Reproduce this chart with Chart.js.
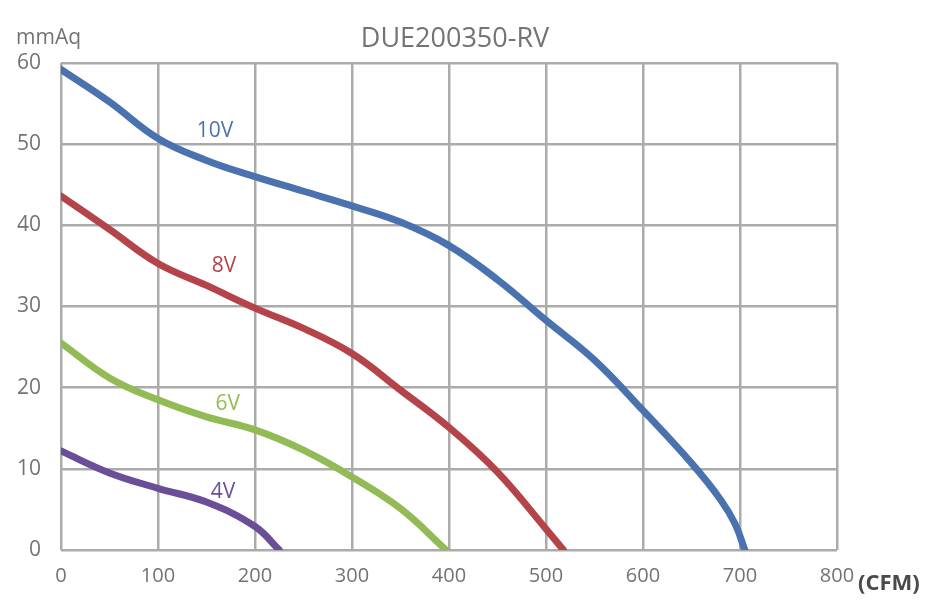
<!DOCTYPE html>
<html><head><meta charset="utf-8">
<script src="https://cdn.jsdelivr.net/npm/chart.js@4"></script>
<style>html,body{margin:0;padding:0;background:#fff}#wrap{width:938px;height:602px}</style>
</head><body><div id="wrap"><canvas id="c" width="938" height="602"></canvas></div>
<script>
const chartTitle = "DUE200350-RV";
const yUnit = "mmAq";
const xUnit = "(CFM)";
const xTicks = [0,100,200,300,400,500,600,700,800];
const yTicks = [0,10,20,30,40,50,60];

const v10x = [0,50,100,150,200,250,300,350,400,450,500,550,600,650,680,695,705];
const v10y = [59.2,55.2,50.7,48,46,44.2,42.4,40.4,37.5,33.3,28.3,23.4,17.2,10.7,6.2,3.2,0];
const v8x = [0,50,100,150,200,250,300,350,400,450,500,518];
const v8y = [43.6,39.5,35.3,32.6,29.8,27.3,24.2,19.7,15.1,9.6,2.6,0];
const v6x = [0,50,100,150,200,250,300,350,397];
const v6y = [25.5,21.2,18.5,16.4,14.8,12.3,9,5.1,0];
const v4x = [0,50,100,150,200,225];
const v4y = [12.2,9.5,7.6,5.9,2.9,0];

const seriesNames = ["10V","8V","6V","4V"];
const seriesColors = ["#4a72ae","#b4434a","#93bb55","#6a4f98"];
const labelPos = [[158.8,51.6],[168,35],[172,18],[167,7.2]];

function pts(xs, ys){ return xs.map((x,i)=>({x:x,y:ys[i]})); }
const allX = [v10x,v8x,v6x,v4x], allY=[v10y,v8y,v6y,v4y];
const FONT = '"Open Sans", sans-serif';

const textPlugin = {
  id:'texts',
  afterDraw(chart){
    const ctx = chart.ctx;
    const xs = chart.scales.x, ys = chart.scales.y;
    ctx.save();
    ctx.fillStyle = '#737373';
    ctx.font = '27px ' + FONT;
    ctx.textAlign='center'; ctx.textBaseline='middle';
    ctx.fillText(chartTitle, 455, 39);
    ctx.font = '21px ' + FONT;
    ctx.textAlign='left';
    ctx.fillText(yUnit, 16, 38);
    ctx.font = 'bold 22px ' + FONT;
    ctx.fillStyle = '#4a4a4a';
    ctx.fillText(xUnit, 858, 584);
    ctx.font = '21px ' + FONT;
    ctx.textAlign='center';
    seriesNames.forEach((n,i)=>{
      ctx.fillStyle = seriesColors[i];
      ctx.fillText(n, xs.getPixelForValue(labelPos[i][0]), ys.getPixelForValue(labelPos[i][1]));
    });
    ctx.restore();
  }
};

new Chart(document.getElementById('c'), {
  type:'line',
  data:{ datasets: seriesNames.map((n,i)=>({
    label:n, data:pts(allX[i],allY[i]), borderColor:seriesColors[i],
    borderWidth:7, pointRadius:0, tension:0.4,
    borderCapStyle:'round', borderJoinStyle:'round', fill:false
  }))},
  options:{
    responsive:false, animation:false,
    layout:{padding:{top:63,right:101,left:0,bottom:0}},
    plugins:{legend:{display:false},tooltip:{enabled:false}},
    scales:{
      x:{type:'linear',min:0,max:800,
        afterBuildTicks(s){ s.ticks = xTicks.map(v=>({value:v})); },
        afterFit(s){ s.height = 52; },
        grid:{color:'#ababab',lineWidth:2.5,drawTicks:false},
        border:{display:false},
        ticks:{color:'#737373',font:{family:FONT,size:20},padding:14,maxRotation:0}
      },
      y:{min:0,max:60,
        afterBuildTicks(s){ s.ticks = yTicks.map(v=>({value:v})); },
        afterFit(s){ s.width = 61; },
        grid:{color:'#ababab',lineWidth:2.5,drawTicks:false},
        border:{display:false},
        ticks:{color:'#737373',font:{family:FONT,size:21},padding:20}
      }
    }
  },
  plugins:[textPlugin]
});
</script></body></html>
